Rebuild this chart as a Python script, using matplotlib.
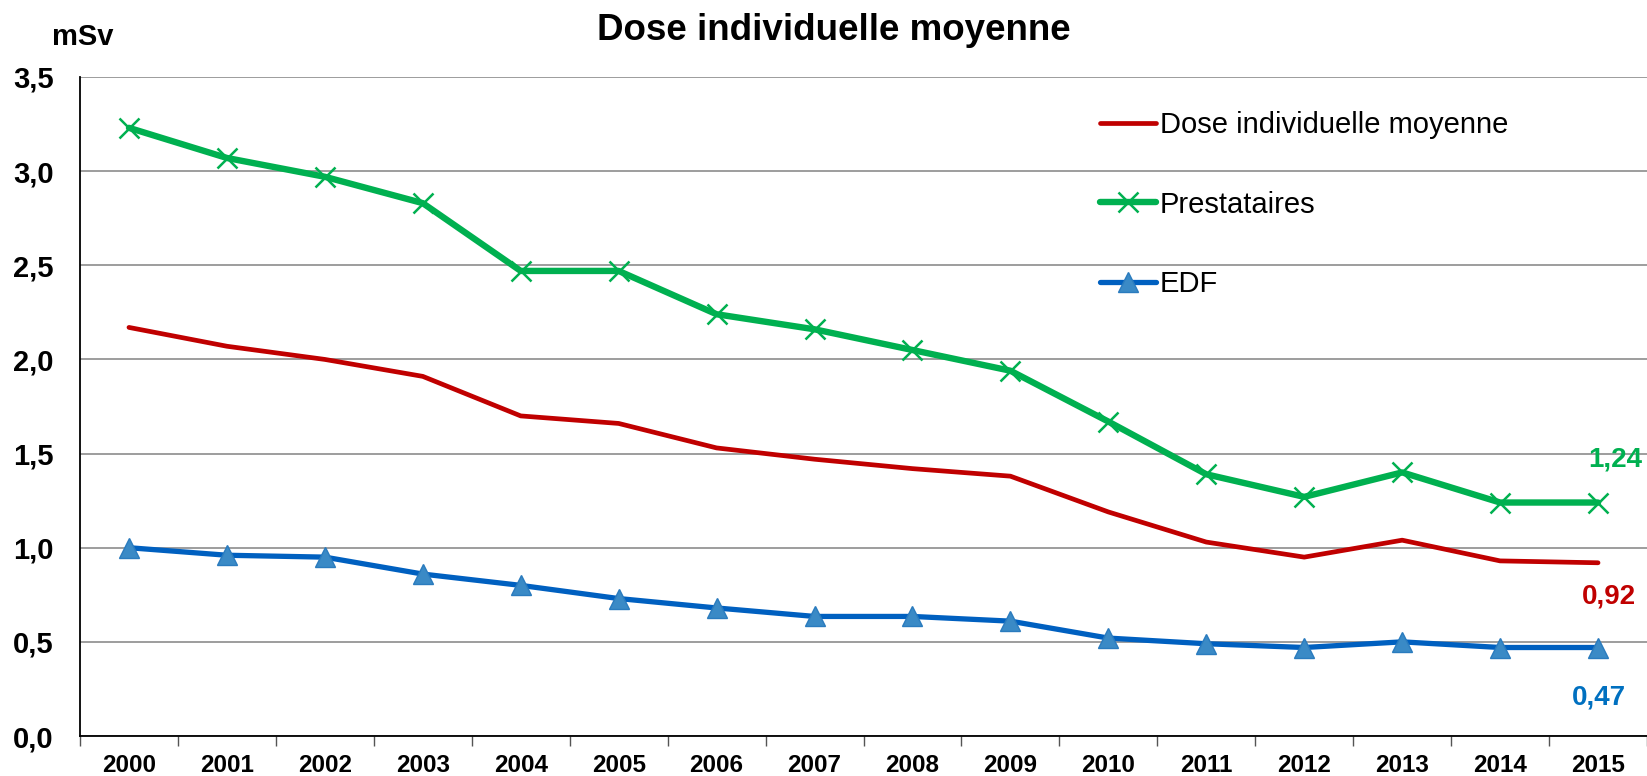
import numpy as np
import matplotlib
matplotlib.use("Agg")
import matplotlib.pyplot as plt

plt.rcParams['font.family'] = ['Liberation Sans', 'DejaVu Sans']

years = [str(y) for y in range(2000, 2016)]

dose_moyenne = [2.17, 2.07, 2.00, 1.91, 1.70, 1.66, 1.53, 1.47, 1.42, 1.38,
                1.19, 1.03, 0.95, 1.04, 0.93, 0.92]
prestataires = [3.23, 3.07, 2.97, 2.83, 2.47, 2.47, 2.24, 2.16, 2.05, 1.94,
                1.67, 1.39, 1.27, 1.40, 1.24, 1.24]
edf = [1.00, 0.96, 0.95, 0.86, 0.80, 0.73, 0.68, 0.635, 0.635, 0.61,
       0.52, 0.49, 0.47, 0.50, 0.47, 0.47]

y_ticks = [0.0, 0.5, 1.0, 1.5, 2.0, 2.5, 3.0, 3.5]
y_labels = ['0,0', '0,5', '1,0', '1,5', '2,0', '2,5', '3,0', '3,5']

red = '#C00000'
green = '#00B050'
blue = '#0060C0'

W, H = 1647, 776
fig = plt.figure(figsize=(W / 100, H / 100), dpi=100)
ax = fig.add_axes([80 / W, 40 / H, 1567 / W, 659 / H])

x = np.arange(len(years))

ax.plot(x, dose_moyenne, color=red, lw=3.4, solid_capstyle='round',
        label='Dose individuelle moyenne', zorder=3)
ax.plot(x, prestataires, color=green, lw=4.6, marker='x', markersize=15,
        markeredgewidth=1.8, markeredgecolor=green, solid_capstyle='round',
        label='Prestataires', zorder=3)
ax.plot(x, edf, color=blue, lw=3.8, marker='^', markersize=14,
        markerfacecolor='#3A8AC6', markeredgecolor='#2A7BBE', markeredgewidth=1,
        solid_capstyle='round', label='EDF', zorder=3)

ax.set_xlim(-0.5, len(years) - 0.5)
ax.set_ylim(0, 3.5)
ax.set_yticks(y_ticks)
ax.set_yticklabels(y_labels, fontsize=21, fontweight='bold')
ax.tick_params(axis='y', length=0, pad=19)
ax.yaxis.grid(True, color='#8C8C8C', lw=1.2)
ax.set_axisbelow(True)

ax.set_xticks(x)
ax.set_xticklabels(years, fontsize=17.5, fontweight='bold')
ax.set_xticks(np.arange(-0.5, len(years)), minor=True)
ax.tick_params(axis='x', which='major', length=0, pad=13)
ax.tick_params(axis='x', which='minor', length=7, width=1, color='#555555',
               direction='out')

for side in ['top', 'right']:
    ax.spines[side].set_visible(False)
ax.spines['left'].set_linewidth(1.3)
ax.spines['bottom'].set_linewidth(1.3)

# valeurs 2015
ax.annotate('1,24', xy=(x[-1], prestataires[-1]), xytext=(17, 43),
            textcoords='offset pixels', ha='center', va='center',
            color=green, fontsize=20, fontweight='bold')
ax.annotate('0,92', xy=(x[-1], dose_moyenne[-1]), xytext=(11, -34),
            textcoords='offset pixels', ha='center', va='center',
            color=red, fontsize=20, fontweight='bold')
ax.annotate('0,47', xy=(x[-1], edf[-1]), xytext=(1, -50),
            textcoords='offset pixels', ha='center', va='center',
            color='#0070C0', fontsize=20, fontweight='bold')

fig.text(834 / W, 1 - 30 / H, 'Dose individuelle moyenne', ha='center',
         va='center', fontsize=26.5, fontweight='bold')
fig.text(83 / W, 1 - 37 / H, 'mSv', ha='center', va='center',
         fontsize=21, fontweight='bold')

ax.legend(loc='upper left', bbox_to_anchor=(1100 / W, 1 - 111 / H),
          bbox_transform=fig.transFigure, frameon=False, fontsize=21,
          handlelength=1.92, handletextpad=0.14, labelspacing=1.77,
          borderpad=0, borderaxespad=0)

fig.savefig('out.png', dpi=100)
